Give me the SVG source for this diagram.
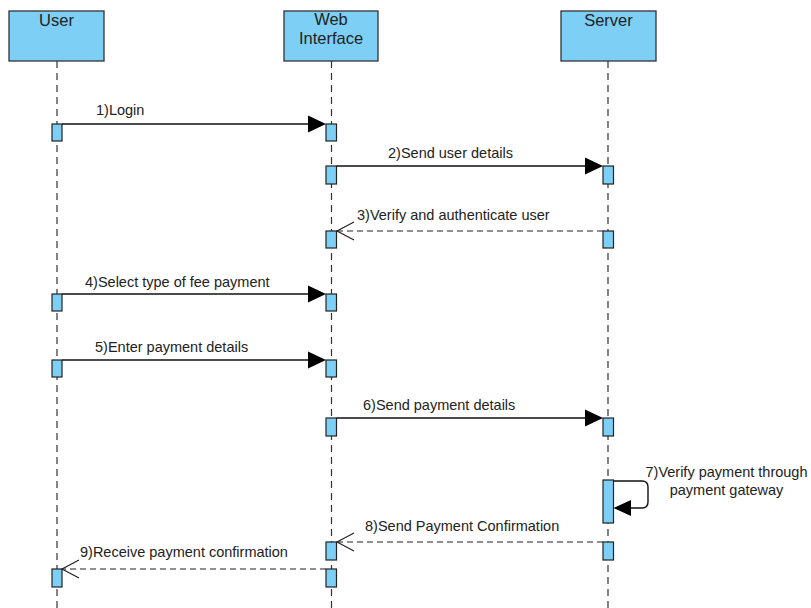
<svg xmlns="http://www.w3.org/2000/svg" width="811" height="608" viewBox="0 0 811 608">
<style>
.hdr{fill:#7DCFF5;stroke:#333;stroke-width:1.3}
.act{fill:#7DCFF5;stroke:#222;stroke-width:1.2}
.life{stroke:#333;stroke-width:1.2;stroke-dasharray:7 5;fill:none}
.msg{stroke:#111;stroke-width:1.4;fill:none}
.ret{stroke:#222;stroke-width:1.2;fill:none;stroke-dasharray:6 4}
.open{stroke:#222;stroke-width:1.2;fill:none}
.head{fill:#000}
.ht{font-family:"Liberation Sans",Arial,sans-serif;font-size:16.5px;fill:#222;text-anchor:middle}
.lt{font-family:"Liberation Sans",Arial,sans-serif;font-size:14.5px;fill:#222}
</style>
<rect width="811" height="608" fill="#fff"/>
<g id="user">
<rect class="hdr" x="9" y="11" width="95" height="50"/>
<text class="ht" x="56.5" y="26">User</text>
<line class="life" x1="57" y1="61" x2="57" y2="608"/>
<rect class="act" x="52" y="124" width="10" height="17"/>
<rect class="act" x="52" y="294" width="10" height="17"/>
<rect class="act" x="52" y="360" width="10" height="17"/>
<rect class="act" x="52" y="569" width="10" height="18"/>
</g>
<g id="web">
<rect class="hdr" x="284" y="11" width="94" height="50"/>
<text class="ht" x="331" y="25">Web</text>
<text class="ht" x="331" y="44">Interface</text>
<line class="life" x1="331.5" y1="61" x2="331.5" y2="608"/>
<rect class="act" x="326" y="124" width="10.5" height="17"/>
<rect class="act" x="326" y="166" width="10.5" height="18"/>
<rect class="act" x="326" y="231" width="10.5" height="17"/>
<rect class="act" x="326" y="294" width="10.5" height="17"/>
<rect class="act" x="326" y="360" width="10.5" height="17"/>
<rect class="act" x="326" y="418" width="10.5" height="18"/>
<rect class="act" x="326" y="542" width="10.5" height="18"/>
<rect class="act" x="326" y="569" width="10.5" height="18"/>
</g>
<g id="server">
<rect class="hdr" x="561" y="11" width="95" height="50"/>
<text class="ht" x="608.5" y="26">Server</text>
<line class="life" x1="608" y1="61" x2="608" y2="608"/>
<rect class="act" x="603" y="166" width="10.5" height="18"/>
<rect class="act" x="603" y="231" width="10.5" height="17"/>
<rect class="act" x="603" y="418" width="10.5" height="18"/>
<rect class="act" x="603" y="480" width="10.5" height="43"/>
<rect class="act" x="603" y="542" width="10.5" height="18"/>
</g>
<g id="connectors">
<line class="msg" x1="62" y1="124" x2="310" y2="124"/>
<polygon class="head" points="326,124 308,115.5 308,132.5"/>
<text class="lt" x="96" y="115">1)Login</text>
<line class="msg" x1="336.5" y1="166" x2="587" y2="166"/>
<polygon class="head" points="603,166 585,157.5 585,174.5"/>
<text class="lt" x="388" y="158">2)Send user details</text>
<line class="ret" x1="603" y1="231" x2="337" y2="231"/>
<polyline class="open" points="354,222 337,231 354,240"/>
<text class="lt" x="357" y="220">3)Verify and authenticate user</text>
<line class="msg" x1="62" y1="294" x2="310" y2="294"/>
<polygon class="head" points="326,294 308,285.5 308,302.5"/>
<text class="lt" x="85" y="287">4)Select type of fee payment</text>
<line class="msg" x1="62" y1="360" x2="310" y2="360"/>
<polygon class="head" points="326,360 308,351.5 308,368.5"/>
<text class="lt" x="95" y="352">5)Enter payment details</text>
<line class="msg" x1="336.5" y1="418" x2="587" y2="418"/>
<polygon class="head" points="603,418 585,409.5 585,426.5"/>
<text class="lt" x="363" y="410">6)Send payment details</text>
<path class="msg" d="M613.5,481 H642 Q648,481 648,487 V502 Q648,508 642,508 H629"/>
<polygon class="head" points="613.5,508 631,500 631,516"/>
<text class="lt" x="726.5" y="477" text-anchor="middle">7)Verify payment through</text>
<text class="lt" x="726.5" y="495" text-anchor="middle">payment gateway</text>
<line class="ret" x1="603" y1="542" x2="337" y2="542"/>
<polyline class="open" points="354,533 337,542 354,551"/>
<text class="lt" x="365" y="531">8)Send Payment Confirmation</text>
<line class="ret" x1="326" y1="569" x2="62" y2="569"/>
<polyline class="open" points="79,560 62,569 79,578"/>
<text class="lt" x="80" y="557">9)Receive payment confirmation</text>
</g>
</svg>
